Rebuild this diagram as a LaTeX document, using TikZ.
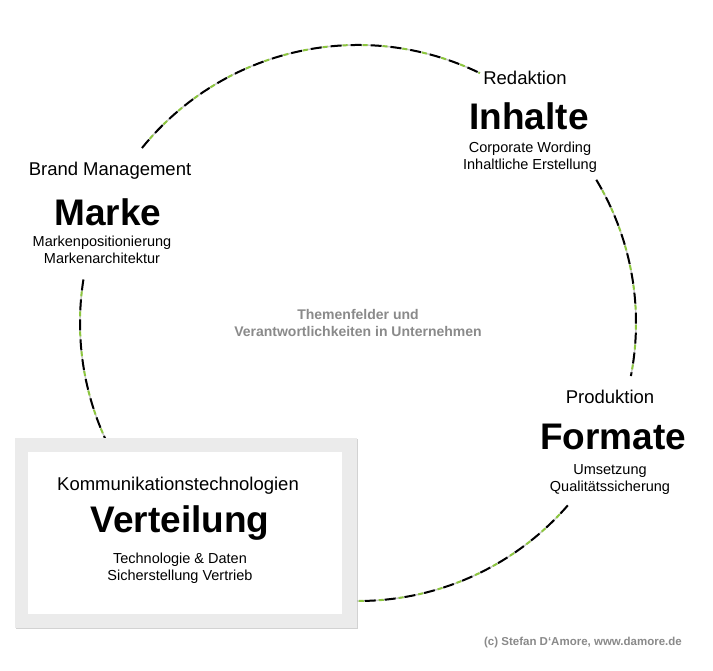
\documentclass[tikz,border=0pt]{standalone}
\usepackage{fontspec}
\setmainfont{Liberation Sans}
\usepackage{xcolor}
\usepackage{tikz}
\usetikzlibrary{shadows}
\definecolor{ringGrey}{HTML}{C8C8C8}
\definecolor{ringGreen}{HTML}{8CC63E}
\definecolor{boxGrey}{HTML}{EBEBEB}
\definecolor{noteGrey}{HTML}{8A8A8A}
\tikzset{
  headlbl/.style={font=\fontsize{18.5}{22}\selectfont, inner sep=0pt},
  titlelbl/.style={font=\fontsize{37}{40}\selectfont\bfseries, inner sep=0pt},
  sublbl/.style={font=\fontsize{14.5}{17}\selectfont, align=center, inner sep=0pt},
  notelbl/.style={font=\fontsize{14}{16.5}\selectfont\bfseries, text=noteGrey, align=center, inner sep=0pt},
  % --- ring segments ---
  ringarc/.style={draw=ringGrey, line width=1.4pt,
    postaction={draw=black, line width=2pt, dash pattern=on 11pt off 9pt},
    postaction={draw=ringGreen, line width=2pt, dash pattern=on 5pt off 15pt, dash phase=8pt}},
  framebox/.style={draw=none, fill=boxGrey, drop shadow={shadow xshift=1pt, shadow yshift=-1.5pt, opacity=0.35}},
}

\begin{document}
\begin{tikzpicture}[x=1pt,y=1pt]
      \useasboundingbox[fill=white] (0,0) rectangle (713,671);
      \coordinate (ctr) at (358,348);

      \draw[ringarc] ([shift={(141:278)}]ctr) arc[start angle=141, end angle=64, radius=278];
      \draw[ringarc] ([shift={(31:278)}]ctr) arc[start angle=31, end angle=-11, radius=278];
      \draw[ringarc] ([shift={(-41:278)}]ctr) arc[start angle=-41, end angle=-100, radius=278];
      \draw[ringarc] ([shift={(171:278)}]ctr) arc[start angle=171, end angle=208, radius=278];

      \fill[framebox] (15,43) rectangle (357,233);
      \fill[white] (28,57) rectangle (342,219);

      \node[headlbl] (brandlbl) at (110,500) {Brand Management};
      \node[titlelbl] (marke) at (108,459) {Marke};
      \node[sublbl] (markesub) at (102,421) {Markenpositionierung\\Markenarchitektur};

      \node[headlbl] (redlbl) at (525,593) {Redaktion};
      \node[titlelbl] (inhalte) at (529,555) {Inhalte};
      \node[sublbl] (inhaltesub) at (530,513.5) {Corporate Wording\\Inhaltliche Erstellung};

      \node[headlbl] (prodlbl) at (610,274) {Produktion};
      \node[titlelbl] (formate) at (613,234) {Formate};
      \node[sublbl] (formatesub) at (610,191.5) {Umsetzung\\Qualitätssicherung};

      \node[headlbl] (kommlbl) at (178,185) {Kommunikationstechnologien};
      \node[titlelbl] (verteilung) at (180,148) {Verteilung};
      \node[sublbl] (verteilungsub) at (180,102.5) {Technologie \& Daten\\Sicherstellung Vertrieb};

      \node[notelbl] (thema) at (ctr) {Themenfelder und\\Verantwortlichkeiten in Unternehmen};
      \node[notelbl, font=\fontsize{11.5}{13}\selectfont\bfseries] (copy) at (583,28) {(c) Stefan D‘Amore, www.damore.de};
    \end{tikzpicture}
\end{document}
